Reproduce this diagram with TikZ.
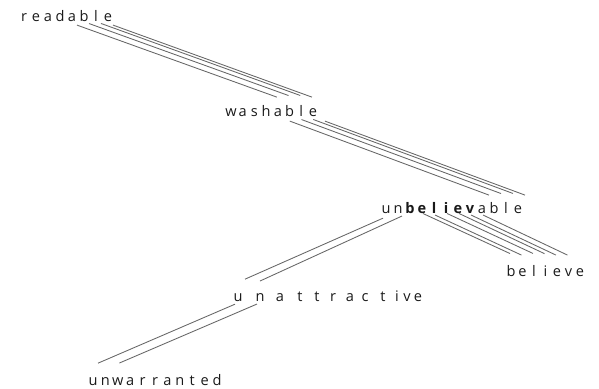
\documentclass[tikz,border=0pt]{standalone}
\usepackage{fontspec}
\setmainfont{Open Sans}
\usepackage{tikz}
\usetikzlibrary{calc,positioning}
\tikzset{ltr/.style={inner sep=0pt,anchor=base,text=black!90,font=\fontsize{10.2}{12}\selectfont},
  bltr/.style={ltr,font=\fontsize{10.2}{12}\selectfont\bfseries},
  tie/.style={draw=black!60,line width=0.6pt}}

\begin{document}
\begin{tikzpicture}[x=0.7pt,y=-0.7pt]
\useasboundingbox (0,0) rectangle (599,389);
% words, one node per letter
\foreach \c [count=\i] in {r,e,a,d,a,b,l,e}
  \node[ltr] (r\i) at ({24+12*(\i-1)},22) {\c};
\foreach \c [count=\i] in {w,a,s,h,a,b,l,e}
  \node[ltr] (w\i) at ({231+11.7*(\i-1)},117) {\c};
\foreach \c/\s [count=\i] in {u/ltr,n/ltr,b/bltr,e/bltr,l/bltr,i/bltr,e/bltr,v/bltr,a/ltr,b/ltr,l/ltr,e/ltr}
  \node[\s] (ub\i) at ({386+12*(\i-1)},213) {\c};
\foreach \c [count=\i] in {b,e,l,i,e,v,e}
  \node[ltr] (bv\i) at ({511+11.5*(\i-1)},276) {\c};
\foreach \c/\x [count=\i] in {u/238,n/260,a/280,t/300,t/317,r/333,a/350,c/365,t/383,i/397,v/407,e/418}
  \node[ltr] (ua\i) at (\x,301) {\c};
\foreach \c [count=\i] in {u,n,w,a,r,r,a,n,t,e,d}
  \node[ltr] (uw\i) at ({93+12.4*(\i-1)},385) {\c};
% ties between shared letters
\foreach \i in {5,...,8}
  \draw[tie] ($(r\i)+(5,7)$) -- ($(w\i)+(-1,-16)$);
\foreach \i [evaluate=\i as \j using int(\i+4)] in {5,...,8}
  \draw[tie] ($(w\i)+(12,8)$) -- ($(ub\j)+(7,-14)$);
\foreach \i [evaluate=\i as \j using int(\i-2)] in {3,...,8}
  \draw[tie] ($(ub\i)+(13,6)$) -- ($(bv\j)+(-1,-17)$);
\draw[tie] ($(ub1)+(-3,9)$) -- ($(ua1)+(7,-18)$);
\draw[tie] ($(ub2)+(4,7)$) -- ($(ua2)+(0,-16)$);
\draw[tie] ($(ua1)+(-3,7)$) -- ($(uw1)+(5,-18)$);
\draw[tie] ($(ua2)+(-3,7)$) -- ($(uw2)+(14,-18)$);
\end{tikzpicture}
\end{document}
